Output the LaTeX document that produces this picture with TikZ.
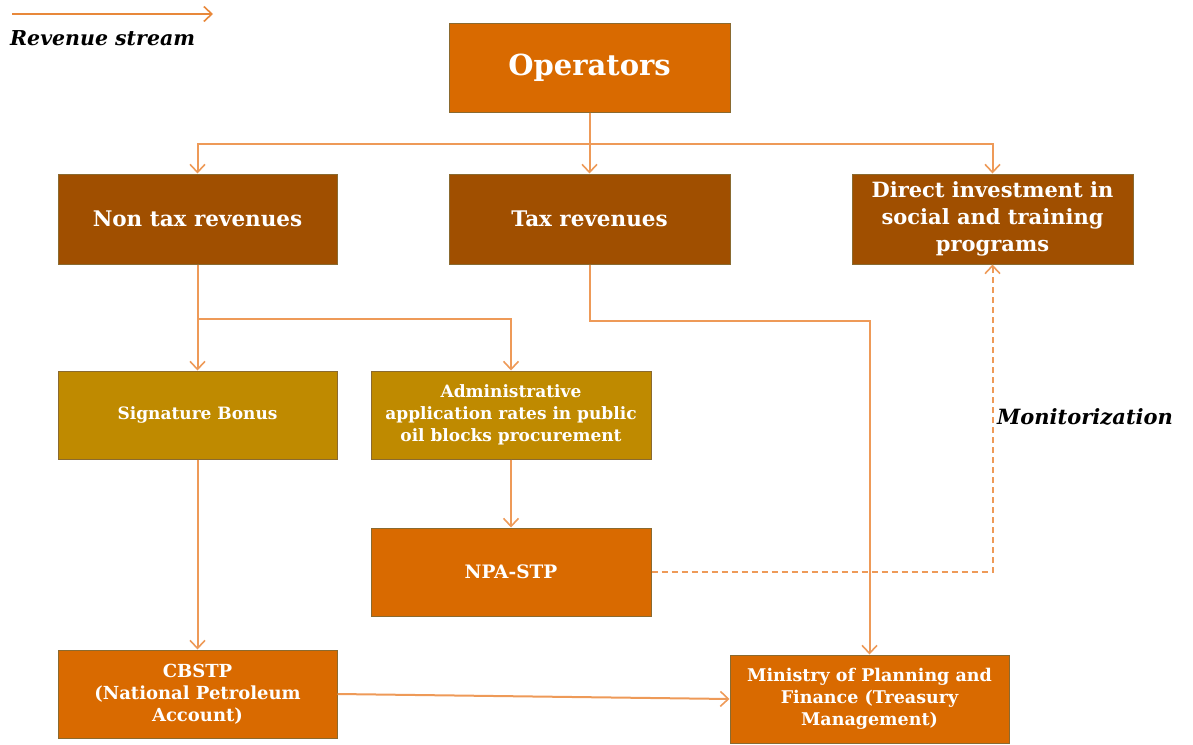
\documentclass[tikz,border=0pt]{standalone}
\usepackage{fontspec}
\setmainfont{DejaVu Serif}
\usepackage{xcolor}
\usepackage{tikz}
\usetikzlibrary{arrows.meta}
\definecolor{CD96A00}{HTML}{D96A00}
\definecolor{CA04F00}{HTML}{A04F00}
\definecolor{CBF8A00}{HTML}{BF8A00}
\definecolor{C8A6A30}{HTML}{8A6A30}
\definecolor{CEE9A58}{HTML}{EE9A58}
\definecolor{CE8883A}{HTML}{E8883A}

\begin{document}
\begin{tikzpicture}[inner sep=0pt,
  >={Straight Barb[length=8pt,width=15pt,line width=1.6pt]},
  box/.style={draw=C8A6A30, line width=1pt, align=center, text=white, font=\bfseries},
  link/.style={->, draw=CEE9A58, line width=2pt}]
\useasboundingbox (0pt,0pt) rectangle (1193pt,-744pt);
\node (n0) [box, minimum width=281pt, minimum height=89pt, at={(589.5pt,-67.5pt)}, fill=CD96A00, font=\bfseries\fontsize{29}{32}\selectfont] {Operators};
\node (n1) [box, minimum width=279pt, minimum height=90pt, at={(197.5pt,-219pt)}, fill=CA04F00, font=\bfseries\fontsize{21.5}{27}\selectfont] {Non tax revenues};
\node (n2) [box, minimum width=281pt, minimum height=90pt, at={(589.5pt,-219pt)}, fill=CA04F00, font=\bfseries\fontsize{21.5}{27}\selectfont] {Tax revenues};
\node (n3) [box, minimum width=281pt, minimum height=90pt, at={(992.5pt,-219pt)}, fill=CA04F00, font=\bfseries\fontsize{21}{27}\selectfont] {Direct investment in\\social and training\\programs};
\node (n4) [box, minimum width=279pt, minimum height=88pt, at={(197.5pt,-415pt)}, fill=CBF8A00, font=\bfseries\fontsize{17}{22}\selectfont] {Signature Bonus};
\node (n5) [box, minimum width=280pt, minimum height=88pt, at={(511pt,-415pt)}, fill=CBF8A00, font=\bfseries\fontsize{17}{22}\selectfont] {Administrative\\application rates in public\\oil blocks procurement};
\node (n6) [box, minimum width=280pt, minimum height=88pt, at={(511pt,-572pt)}, fill=CD96A00, font=\bfseries\fontsize{18.5}{22}\selectfont] {NPA-STP};
\node (n7) [box, minimum width=279pt, minimum height=88pt, at={(197.5pt,-694pt)}, fill=CD96A00, font=\bfseries\fontsize{18}{22}\selectfont] {CBSTP\\(National Petroleum\\Account)};
\node (n8) [box, minimum width=279pt, minimum height=88pt, at={(869.5pt,-699pt)}, fill=CD96A00, font=\bfseries\fontsize{17.5}{22}\selectfont] {Ministry of Planning and\\Finance (Treasury\\Management)};

% legend
\coordinate (l0) at (12pt,-14pt);
\coordinate (l1) at (213pt,-14pt);
\path [->, draw=CE8883A, line width=2pt] (l0)--(l1);
\node (t0) [anchor=west, at={(10pt,-38pt)}, font=\bfseries\itshape\fontsize{20.5}{22}\selectfont] {Revenue stream};
\node (t1) [anchor=west, at={(997pt,-417pt)}, font=\bfseries\itshape\fontsize{21}{22}\selectfont] {Monitorization};

\path [link] (n0)--(n2);
\path [link] (n0.south) -- ++(0,-31pt) -| (n1.north);
\path [link] (n0.south) -- ++(0,-31pt) -| (n3.north);

\path [link] (n1)--(n4);
\path [link] (n1.south) -- ++(0,-54pt) -| (n5.north);

\path [link] (n2.south) -- ++(0,-56pt) -| (n8.north);

\path [link] (n4)--(n7);
\path [link] (n5)--(n6);
\path [link] (n7.east)--(n8.west);

\path [link, dashed, dash pattern=on 6pt off 4pt] (n6.east) -| (n3.south);
\end{tikzpicture}
\end{document}
